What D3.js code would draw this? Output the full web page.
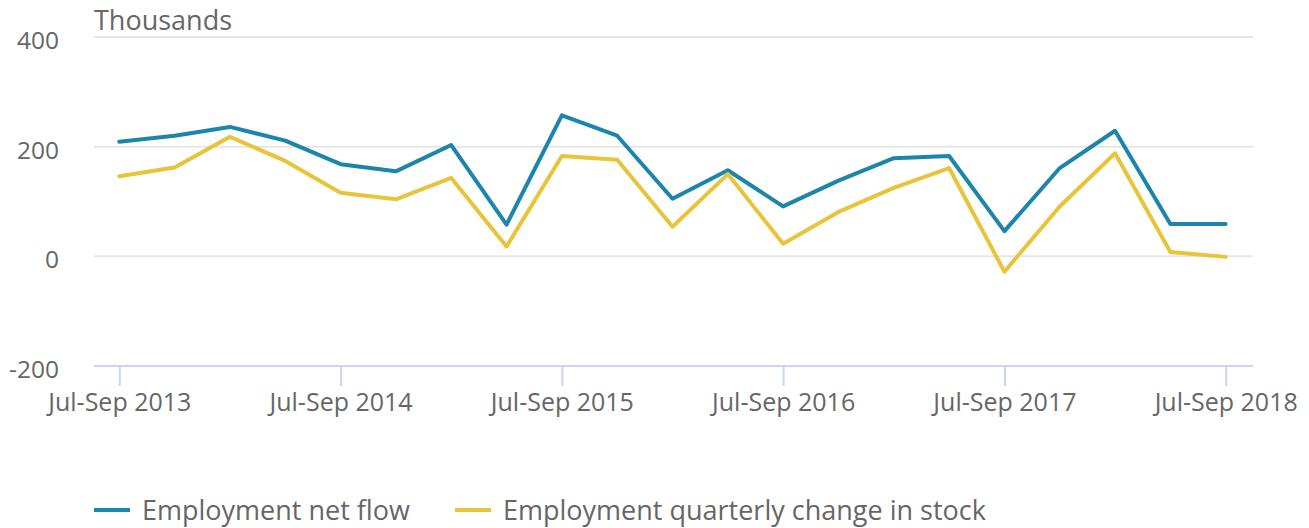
<!DOCTYPE html>
<html>
<head>
<meta charset="utf-8">
<script src="https://cdn.jsdelivr.net/npm/d3@7"></script>
<style>
  body { margin: 0; background: #fff; }
  svg { font-family: "Open Sans", sans-serif; }
</style>
</head>
<body>
<svg class="chart"></svg>
<script>
// Chart size
const width = 1309;
const height = 528;

// Data
const quarters = [
  "Jul-Sep 2013", "Oct-Dec 2013", "Jan-Mar 2014", "Apr-Jun 2014",
  "Jul-Sep 2014", "Oct-Dec 2014", "Jan-Mar 2015", "Apr-Jun 2015",
  "Jul-Sep 2015", "Oct-Dec 2015", "Jan-Mar 2016", "Apr-Jun 2016",
  "Jul-Sep 2016", "Oct-Dec 2016", "Jan-Mar 2017", "Apr-Jun 2017",
  "Jul-Sep 2017", "Oct-Dec 2017", "Jan-Mar 2018", "Apr-Jun 2018",
  "Jul-Sep 2018"
];
const netFlow = [209, 220, 236, 211, 168, 155, 203, 58, 257, 220, 105, 157,
  91, 138, 179, 183, 46, 161, 229, 59, 59];
const stockChange = [146, 162, 218, 174, 116, 104, 143, 18, 183, 176, 54, 150,
  23, 81, 125, 161, -28, 91, 188, 8, -1];
const yTicks = [-200, 0, 200, 400];
const xTickLabels = ["Jul-Sep 2013", "Jul-Sep 2014", "Jul-Sep 2015",
  "Jul-Sep 2016", "Jul-Sep 2017", "Jul-Sep 2018"];
const seriesNames = ["Employment net flow", "Employment quarterly change in stock"];
const colors = ["#1b85ac", "#e8c43a"];

const svg = d3.select(".chart")
    .attr("width", width)
    .attr("height", height);

// Plot area
const plotLeft = 94, plotRight = 1253;

const x = d3.scalePoint()
    .domain(quarters)
    .range([119.3, 1225.7]);

const y = d3.scaleLinear()
    .domain([-200, 400])
    .range([366, 37]);

// Gridlines
svg.append("g")
    .selectAll("line")
    .data(yTicks.filter(d => d !== -200))
    .enter().append("line")
    .attr("x1", plotLeft)
    .attr("x2", plotRight)
    .attr("y1", d => y(d))
    .attr("y2", d => y(d))
    .attr("stroke", "#e6e6e6")
    .attr("stroke-width", 2);

// Y labels
svg.append("g")
    .selectAll("text")
    .data(yTicks)
    .enter().append("text")
    .attr("x", 59)
    .attr("y", d => y(d) + 12)
    .attr("text-anchor", "end")
    .attr("fill", "#666")
    .attr("font-size", 24.5)
    .text(d => d);

svg.append("text")
    .attr("x", 94)
    .attr("y", 30)
    .attr("fill", "#666")
    .attr("font-size", 27)
    .text("Thousands");

// X axis
const xAxis = d3.axisBottom(x)
    .tickValues(xTickLabels)
    .tickSize(20)
    .tickSizeOuter(0);

const gx = svg.append("g")
    .attr("transform", `translate(0,${y(-200)})`)
    .call(xAxis);

gx.select(".domain").remove();
gx.insert("line", ":first-child")
    .attr("x1", plotLeft)
    .attr("x2", plotRight)
    .attr("stroke", "#ccd6eb")
    .attr("stroke-width", 2);
gx.selectAll(".tick line")
    .attr("stroke", "#ccd6eb")
    .attr("stroke-width", 2);
gx.selectAll(".tick text")
    .attr("fill", "#666")
    .attr("font-size", 25)
    .attr("font-family", "Open Sans")
    .attr("y", 27)
    .attr("dy", "0.71em");

// Lines
const line = d3.line()
    .x((d, i) => x(quarters[i]))
    .y(d => y(d));

[netFlow, stockChange].forEach((series, i) => {
  svg.append("path")
      .datum(series)
      .attr("fill", "none")
      .attr("stroke", colors[i])
      .attr("stroke-width", 4)
      .attr("stroke-linejoin", "round")
      .attr("stroke-linecap", "round")
      .attr("d", line);
});

// Legend
const legendX = [94, 455];
const legend = svg.append("g")
    .selectAll("g")
    .data(seriesNames)
    .enter().append("g")
    .attr("transform", (d, i) => `translate(${legendX[i]},510)`);

legend.append("line")
    .attr("x1", 0)
    .attr("x2", 36)
    .attr("stroke", (d, i) => colors[i])
    .attr("stroke-width", 4);

legend.append("text")
    .attr("x", 48)
    .attr("y", 10)
    .attr("fill", "#666")
    .attr("font-size", 27)
    .text(d => d);
</script>
</body>
</html>
